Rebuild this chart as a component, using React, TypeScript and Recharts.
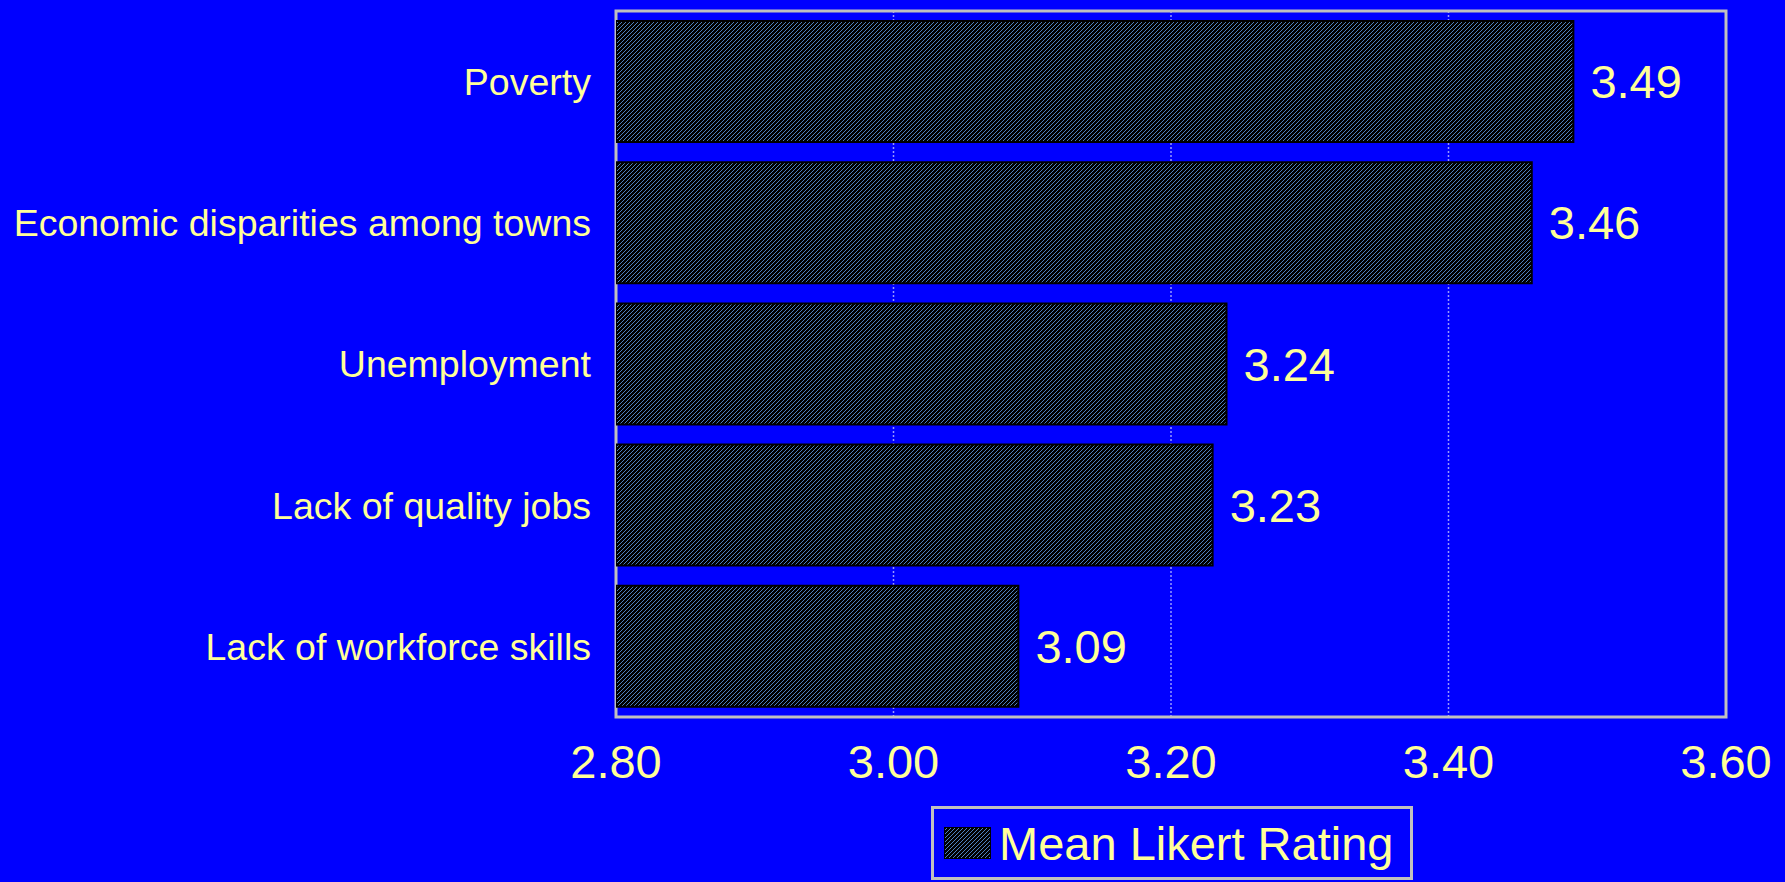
import React from "react";
import {
  BarChart,
  Bar,
  XAxis,
  YAxis,
  CartesianGrid,
  LabelList,
  Legend,
  ReferenceArea,
} from "recharts";

const categories = [
  "Poverty",
  "Economic disparities among towns",
  "Unemployment",
  "Lack of quality jobs",
  "Lack of workforce skills",
];
const meanRatings = [3.49, 3.46, 3.24, 3.23, 3.09];
const xTicks = [2.8, 3.0, 3.2, 3.4, 3.6];
const seriesName = "Mean Likert Rating";

const data = categories.map((c, i) => ({ name: c, value: meanRatings[i] }));

const TEXT = "#ffff99";
const FONT = "'Liberation Sans', Arial, sans-serif";

function LegendBox() {
  return (
    <div
      style={{
        width: 482,
        height: 74,
        border: "3px solid #c0c0c0",
        boxSizing: "border-box",
        display: "flex",
        alignItems: "center",
        fontFamily: FONT,
        fontSize: 47,
        color: TEXT,
        whiteSpace: "nowrap",
      }}
    >
      <svg width={47} height={32} style={{ marginLeft: 10, marginRight: 8 }}>
        <rect x={0.5} y={0.5} width={46} height={31} fill="url(#hatch)" stroke="#000" />
      </svg>
      <span>{seriesName}</span>
    </div>
  );
}

export default function App() {
  return (
    <div style={{ position: "absolute", left: 0, top: 0, background: "#0000ff" }}>
      <svg width={0} height={0} style={{ position: "absolute" }}>
        <defs>
          <pattern id="hatch" width={4} height={4} patternUnits="userSpaceOnUse">
            <rect width={4} height={4} fill="#000" />
            <path
              d="M-1,1 l2,-2 M0,4 l4,-4 M3,5 l2,-2"
              stroke="#4f81bd"
              strokeWidth={1}
              shapeRendering="crispEdges"
            />
          </pattern>
        </defs>
      </svg>
      <BarChart
        width={1785}
        height={882}
        data={data}
        layout="vertical"
        margin={{ top: 11, right: 59, bottom: 105, left: 0 }}
        barCategoryGap={10}
      >
        <CartesianGrid
          horizontal={false}
          stroke="#9999ff"
          strokeDasharray="2 2"
          strokeWidth={1.5}
        />
        <XAxis
          type="number"
          domain={[2.8, 3.6]}
          ticks={xTicks}
          tickFormatter={(v: number) => v.toFixed(2)}
          axisLine={false}
          tickLine={false}
          tickSize={0}
          tickMargin={28}
          height={60}
          tick={{ fill: TEXT, fontSize: 47, fontFamily: FONT }}
          allowDataOverflow
        />
        <YAxis
          type="category"
          dataKey="name"
          width={616}
          axisLine={false}
          tickLine={false}
          tickSize={0}
          tickMargin={25}
          tick={{ fill: TEXT, fontSize: 37.5, fontFamily: FONT }}
        />
        <Bar
          dataKey="value"
          name={seriesName}
          fill="url(#hatch)"
          stroke="#000"
          strokeWidth={2}
          isAnimationActive={false}
        >
          <LabelList
            dataKey="value"
            position="right"
            offset={17}
            formatter={(v: number) => v.toFixed(2)}
            style={{ fill: TEXT, fontSize: 47, fontFamily: FONT }}
          />
        </Bar>
        <ReferenceArea
          x1={xTicks[0]}
          x2={xTicks[xTicks.length - 1]}
          y1={categories[0]}
          y2={categories[categories.length - 1]}
          fill="none"
          stroke="#c0c0c0"
          strokeWidth={3}
          ifOverflow="visible"
        />
        <Legend
          layout="vertical"
          align="center"
          verticalAlign="middle"
          wrapperStyle={{ left: 931, top: 806, width: 482 }}
          content={() => <LegendBox />}
        />
      </BarChart>
    </div>
  );
}
